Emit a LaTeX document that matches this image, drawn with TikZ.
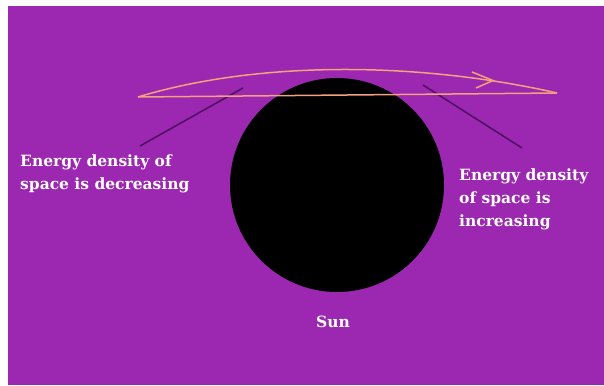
\documentclass[tikz,border=0pt]{standalone}
\usepackage{fontspec}
\setmainfont{DejaVu Serif}
\usetikzlibrary{arrows.meta}
\definecolor{bgpurple}{HTML}{9C27B0}
\definecolor{pathpink}{HTML}{F2A27E}
\definecolor{linedark}{HTML}{4E0E62}
\tikzset{
  lbl/.style={text=white, font=\bfseries\fontsize{15.5}{23}\selectfont, align=left, inner sep=0pt},
  pointer/.style={draw=linedark, line width=1.5pt},
  orbit/.style={draw=pathpink, line width=1.5pt}
}
\begin{document}
\begin{tikzpicture}[x=1pt,y=-1pt]
\useasboundingbox (0,0) rectangle (604,385);
\fill[white] (0,0) rectangle (604,385);
\fill[bgpurple] (8,6) rectangle (604,385);
% Sun
\node[circle, fill=black, minimum size=214pt, inner sep=0pt] (sun) at (337,185) {};
% pointer lines
\coordinate (l1) at (243,88);
\coordinate (l2) at (140,146);
\coordinate (r1) at (423,85);
\coordinate (r2) at (522,148);
\draw[pointer] (l1) -- (l2);
\draw[pointer] (r1) -- (r2);
% orbit path
\coordinate (a) at (138,97);
\coordinate (b) at (557,93);
\draw[orbit] (a) -- (b);
\draw[orbit] (a) .. controls (260,60) and (420,62) .. (b);
\draw[orbit] (472,72) -- (493,80.5) -- (476,88);
% labels
\node[lbl, anchor=north west] (tl) at (20,155) {Energy density of\\space is decreasing};
\node[lbl, anchor=north west] (tr) at (459,169) {Energy density\\of space is\\increasing};
\node[lbl, anchor=center] (sunlbl) at (333,322) {Sun};
\end{tikzpicture}
\end{document}
